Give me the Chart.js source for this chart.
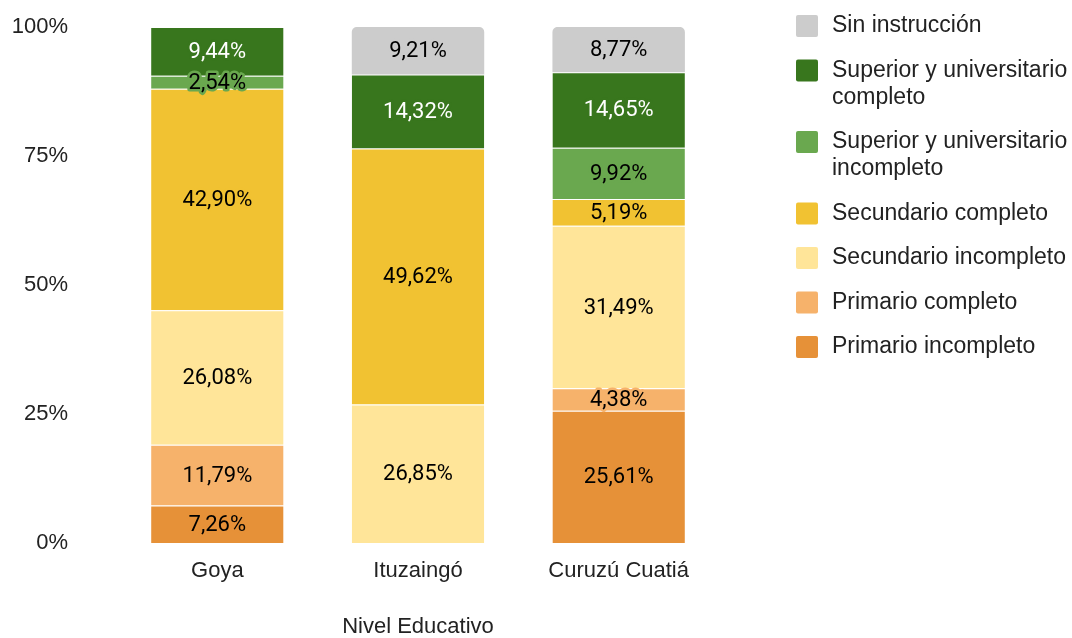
<!DOCTYPE html>
<html>
<head>
<meta charset="utf-8">
<script src="https://cdn.jsdelivr.net/npm/chart.js@4"></script>
<style>
  html, body { margin: 0; padding: 0; background: #ffffff; }
  #wrap { width: 1072px; height: 638px; }
</style>
</head>
<body>
<div id="wrap"><canvas id="c" width="1072" height="638"></canvas></div>
<script>
// ---- Data ----
const categories = ['Goya', 'Ituzaingó', 'Curuzú Cuatiá'];
const primarioIncompleto = [7.26, 0, 25.61];
const primarioCompleto = [11.79, 0, 4.38];
const secundarioIncompleto = [26.08, 26.85, 31.49];
const secundarioCompleto = [42.90, 49.62, 5.19];
const superiorIncompleto = [2.54, 0, 9.92];
const superiorCompleto = [9.44, 14.32, 14.65];
const sinInstruccion = [0, 9.21, 8.77];
const yTicks = [0, 25, 50, 75, 100];
const xTitle = 'Nivel Educativo';

const AXIS_FONT = '"Liberation Sans", Arial, sans-serif';
const LABEL_FONT = 'Roboto, "Liberation Sans", sans-serif';
const TEXT_COLOR = '#222222';

function mk(label, data, color, textColor, extra) {
  return Object.assign({
    label: label,
    data: data,
    backgroundColor: color,
    borderColor: 'rgba(255,255,255,0.35)',
    borderWidth: { top: 1, left: 0, right: 0, bottom: 0 },
    borderSkipped: 'bottom',
    labelColor: textColor
  }, extra || {});
}

const datasets = [
  mk('Primario incompleto', primarioIncompleto, '#e69138', '#000'),
  mk('Primario completo', primarioCompleto, '#f6b26b', '#000'),
  mk('Secundario incompleto', secundarioIncompleto, '#ffe599', '#000'),
  mk('Secundario completo', secundarioCompleto, '#f1c232', '#000'),
  mk('Superior y universitario incompleto', superiorIncompleto, '#6aa84f', '#000'),
  mk('Superior y universitario completo', superiorCompleto, '#38761d', '#fff'),
  mk('Sin instrucción', sinInstruccion, '#cccccc', '#000', {
    borderRadius: { topLeft: 5, topRight: 5, bottomLeft: 0, bottomRight: 0 },
    borderSkipped: false,
    borderWidth: 0
  })
];

const fmt = v => v.toFixed(2).replace('.', ',') + '%';

const labelPlugin = {
  id: 'segLabels',
  afterDatasetsDraw(chart) {
    const ctx = chart.ctx;
    ctx.save();
    ctx.font = '22px ' + LABEL_FONT;
    ctx.textAlign = 'center';
    ctx.textBaseline = 'middle';
    ctx.lineJoin = 'round';
    chart.data.datasets.forEach((ds, i) => {
      const meta = chart.getDatasetMeta(i);
      meta.data.forEach((el, j) => {
        const v = ds.data[j];
        if (!v) return;
        const p = el.getProps(['x', 'y', 'base'], true);
        const cy = (p.y + p.base) / 2 + 1;
        const t = fmt(v);
        ctx.lineWidth = 5;
        ctx.strokeStyle = ds.backgroundColor;
        ctx.strokeText(t, p.x, cy);
        ctx.fillStyle = ds.labelColor;
        ctx.fillText(t, p.x, cy);
      });
    });
    ctx.restore();
  }
};

const legendPlugin = {
  id: 'sideLegend',
  afterDraw(chart) {
    const ctx = chart.ctx;
    ctx.save();
    ctx.font = '23px ' + AXIS_FONT;
    ctx.textBaseline = 'middle';
    ctx.textAlign = 'left';
    const boxX = 796, textX = 832, maxW = 240, lineH = 27, gap = 17.5;
    let y = 26;
    const items = chart.data.datasets.slice().reverse();
    items.forEach(ds => {
      const words = ds.label.split(' ');
      const lines = [];
      let cur = '';
      words.forEach(w => {
        const test = cur ? cur + ' ' + w : w;
        if (ctx.measureText(test).width > maxW && cur) { lines.push(cur); cur = w; }
        else cur = test;
      });
      if (cur) lines.push(cur);
      ctx.fillStyle = ds.backgroundColor;
      ctx.beginPath();
      ctx.roundRect(boxX, y - 11, 22, 22, 2);
      ctx.fill();
      ctx.fillStyle = TEXT_COLOR;
      lines.forEach((ln, k) => ctx.fillText(ln, textX, y + k * lineH));
      y += lines.length * lineH + gap;
    });
    ctx.restore();
  }
};

new Chart(document.getElementById('c'), {
  type: 'bar',
  data: { labels: categories, datasets: datasets },
  plugins: [labelPlugin, legendPlugin],
  options: {
    responsive: false,
    animation: false,
    layout: { padding: { top: 27, right: 353, bottom: 0, left: 0 } },
    plugins: {
      legend: { display: false },
      tooltip: { enabled: false }
    },
    datasets: {
      bar: { categoryPercentage: 1, barPercentage: 0.66 }
    },
    scales: {
      x: {
        stacked: true,
        grid: { display: false, drawTicks: false },
        border: { display: false },
        ticks: { color: TEXT_COLOR, font: { family: AXIS_FONT, size: 22 }, padding: 15 },
        title: {
          display: true,
          text: xTitle,
          color: TEXT_COLOR,
          font: { family: AXIS_FONT, size: 22, lineHeight: 1 },
          padding: { top: 0, bottom: 0 }
        },
        afterFit(scale) { scale.height = 95; scale.paddingLeft = 0; scale.paddingRight = 0; }
      },
      y: {
        stacked: true,
        min: 0,
        max: 100,
        grid: { display: false, drawTicks: false },
        border: { display: false },
        afterBuildTicks(scale) { scale.ticks = yTicks.map(v => ({ value: v })); },
        ticks: {
          color: TEXT_COLOR,
          font: { family: AXIS_FONT, size: 22 },
          padding: 49,
          callback: v => v + '%'
        },
        afterFit(scale) { scale.width = 117; scale.paddingTop = 0; scale.paddingBottom = 0; }
      }
    }
  }
});
</script>
</body>
</html>
